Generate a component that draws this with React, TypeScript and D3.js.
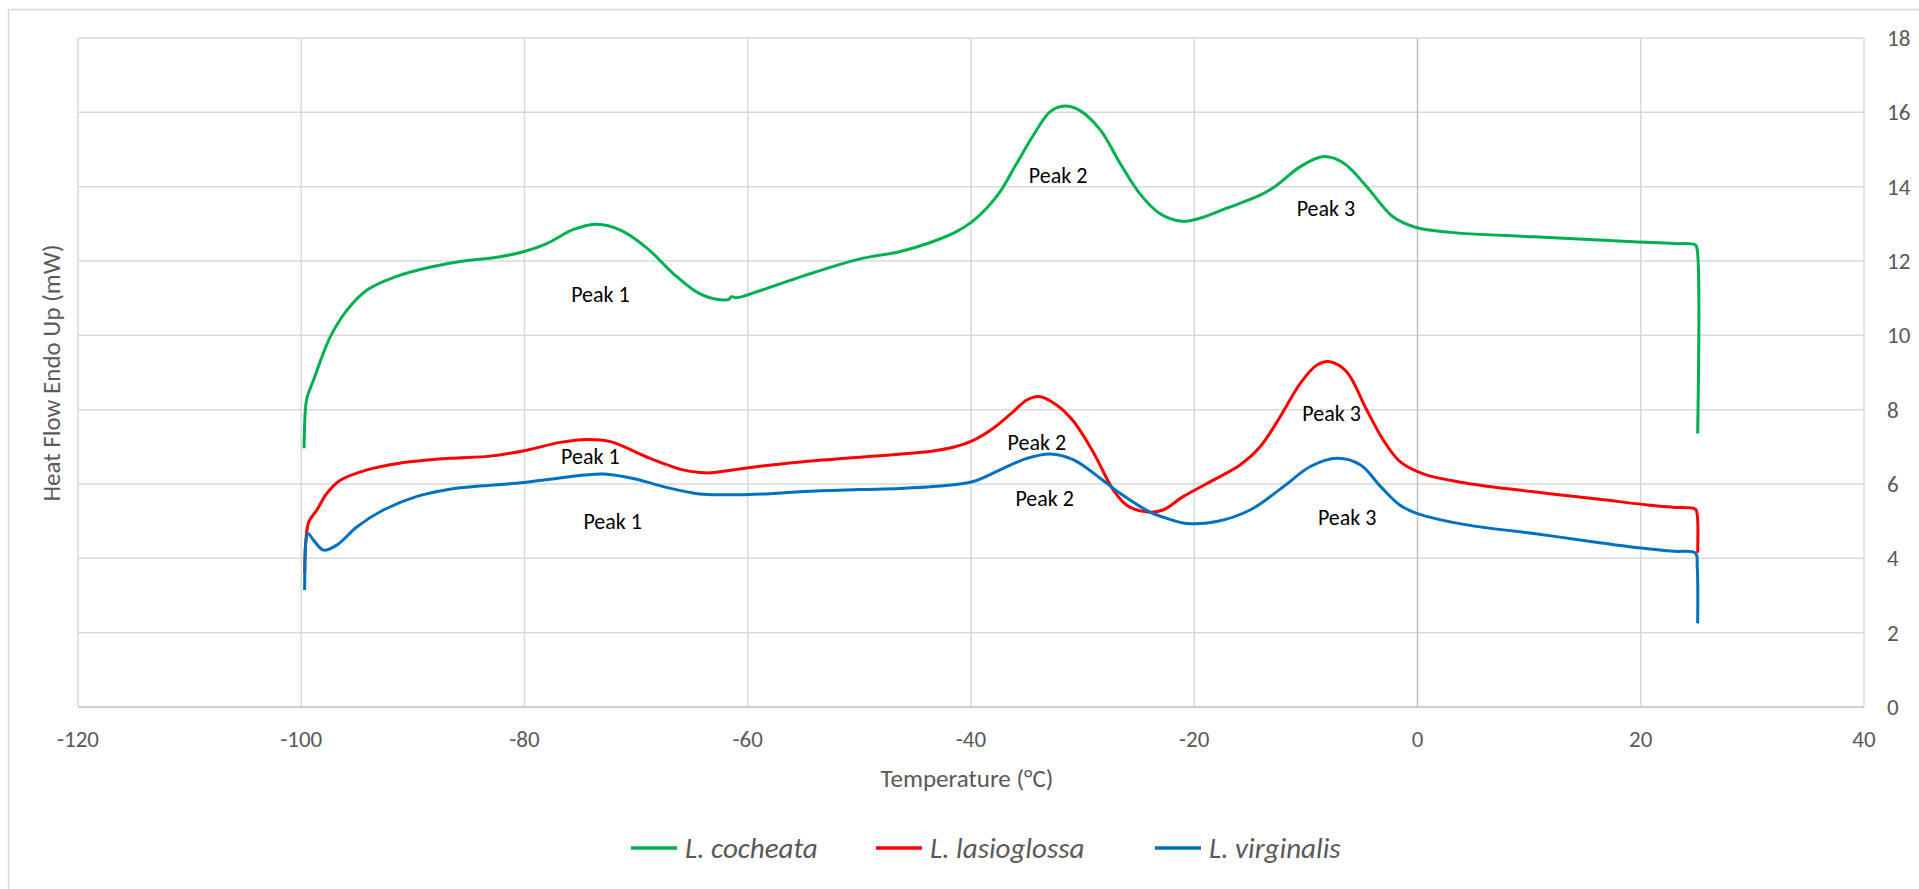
import React from "react";
import * as d3 from "d3";

// ---- Data ----
const xTicks = [-120, -100, -80, -60, -40, -20, 0, 20, 40];
const yTicks = [0, 2, 4, 6, 8, 10, 12, 14, 16, 18];

const seriesNames = ["L. cocheata", "L. lasioglossa", "L. virginalis"];
const seriesColors = ["#00b050", "#ff0000", "#0070c0"];

const cocheataT = [
  -99.75, -99.65, -99.5, -98.9, -97.4, -95.9, -94.1, -91.5, -88.5, -85.5, -82.5, -80.1, -78, -75.6, -73.5,
  -71.4, -69, -66.7, -64.6, -62.8, -61.7, -61.45, -61, -58.9, -55, -50, -46.4, -43.7, -41.3, -39.9, -38.6,
  -37.4, -35.9, -34.4, -32.9, -31.6, -30.2, -28.4, -26.65, -24.9, -23.1, -21.1, -19.5, -17.1, -14.1, -12.6,
  -10.5, -8.4, -6.6, -4.55, -2.2, -0.1, 2.9, 10.4, 19.35, 23.0, 24.9, 25.06, 25.1,
];
const cocheataHF = [
  6.96, 7.9, 8.3, 8.8, 9.96, 10.68, 11.22, 11.58, 11.83, 12.0, 12.1, 12.25, 12.47, 12.85, 12.99,
  12.83, 12.34, 11.67, 11.17, 10.97, 10.97, 11.04, 11.01, 11.2, 11.6, 12.05, 12.25, 12.49, 12.79, 13.06, 13.42,
  13.86, 14.63, 15.39, 16.02, 16.17, 16.04, 15.52, 14.63, 13.82, 13.28, 13.07, 13.15, 13.42, 13.77, 14.04,
  14.54, 14.81, 14.63, 14.0, 13.19, 12.9, 12.77, 12.65, 12.52, 12.47, 12.43, 12.3, 7.36,
];

const lasioglossaT = [
  -99.7, -99.55, -99.3, -98.6, -97.7, -96.5, -94.1, -91.2, -86.7, -83.1, -79.8, -76.8, -74.4, -72.3, -68.75,
  -65.8, -64.3, -63.4, -58.9, -55, -50, -46.4, -43.4, -41.6, -39.9, -38.0, -36.2, -35.0, -33.8, -32.3, -30.8,
  -29.0, -27.25, -26.05, -24.3, -22.8, -21.0, -18.0, -15.9, -14.1, -12.3, -10.5, -9.0, -7.85, -6.35, -4.55,
  -3.06, -1.56, 0.52, 4.4, 10.4, 16.3, 20.8, 23.0, 24.9, 25.06, 25.1,
];
const lasioglossaHF = [
  3.6, 4.6, 5.0, 5.3, 5.75, 6.1, 6.38, 6.56, 6.69, 6.75, 6.91, 7.12, 7.2, 7.14, 6.69,
  6.38, 6.31, 6.3, 6.48, 6.6, 6.72, 6.8, 6.89, 6.99, 7.16, 7.5, 7.95, 8.26, 8.35, 8.12, 7.68,
  6.83, 5.84, 5.43, 5.25, 5.3, 5.66, 6.15, 6.51, 7.0, 7.81, 8.71, 9.2, 9.29, 9.02, 7.99,
  7.18, 6.6, 6.27, 6.02, 5.79, 5.59, 5.43, 5.37, 5.32, 5.17, 4.15,
];

const virginalisT = [
  -99.7, -99.68, -99.6, -99.4, -98.9, -98.0, -96.8, -95.0, -92.65, -89.7, -86.7, -83.7, -80.7, -77.7, -74.7,
  -72.9, -70.25, -67.3, -64.3, -62, -58, -55, -50, -46.4, -43.4, -39.9, -37.4, -35.0, -32.9, -30.8, -28.4,
  -26.65, -24.0, -22.5, -20.7, -18.0, -15.0, -12.0, -9.6, -7.2, -5.1, -3.3, -1.56, -0.07, 4.4, 10.4, 16.3,
  20.8, 23.0, 24.9, 25.06, 25.1,
];
const virginalisHF = [
  3.15, 3.6, 4.4, 4.67, 4.49, 4.22, 4.36, 4.85, 5.3, 5.66, 5.86, 5.95, 6.02, 6.13, 6.24,
  6.27, 6.15, 5.91, 5.73, 5.71, 5.74, 5.8, 5.85, 5.88, 5.93, 6.06, 6.38, 6.69, 6.81, 6.65, 6.15,
  5.75, 5.25, 5.08, 4.94, 4.99, 5.3, 5.93, 6.47, 6.69, 6.51, 5.93, 5.43, 5.21, 4.9, 4.67, 4.42,
  4.25, 4.19, 4.14, 3.78, 2.25,
];

// Peak annotations
const peakLabels = ["Peak 1", "Peak 2", "Peak 3", "Peak 1", "Peak 2", "Peak 3", "Peak 1", "Peak 2", "Peak 3"];
const peakT = [-73.2, -32.2, -8.2, -74.1, -34.1, -7.7, -72.1, -33.4, -6.3];
const peakHF = [11.1, 14.3, 13.4, 6.75, 7.13, 7.9, 5.0, 5.6, 5.1];

const W = 1919;
const H = 889;

export default function App() {
  const x = d3.scaleLinear().domain([-120, 40]).range([78, 1864]);
  const y = d3.scaleLinear().domain([0, 18]).range([707, 38]);

  const line = d3
    .line<[number, number]>()
    .x((d) => x(d[0]))
    .y((d) => y(d[1]))
    .curve(d3.curveCatmullRom.alpha(0.5));

  const series: [number, number][][] = [
    cocheataT.map((t, i) => [t, cocheataHF[i]]),
    lasioglossaT.map((t, i) => [t, lasioglossaHF[i]]),
    virginalisT.map((t, i) => [t, virginalisHF[i]]),
  ];

  const font = "Carlito, Calibri, 'Open Sans', sans-serif";
  const gray = "#595959";
  const grid = "#d9d9d9";
  const axis = "#bfbfbf";

  const legendLineX = [631, 876, 1155];

  return (
    <div style={{ position: "absolute", left: 0, top: 0 }}>
      <svg width={W} height={H} style={{ display: "block", background: "#fff" }} fontFamily={font}>
        <rect x={8.5} y={9.5} width={W + 20} height={H + 20} fill="#fff" stroke={grid} strokeWidth={1.5} />
        {yTicks.filter((t) => t !== 0).map((t) => (
          <line key={"gy" + t} x1={x(-120)} x2={x(40)} y1={y(t)} y2={y(t)} stroke={grid} strokeWidth={1.5} />
        ))}
        {xTicks.filter((t) => t !== 0).map((t) => (
          <line key={"gx" + t} x1={x(t)} x2={x(t)} y1={y(0)} y2={y(18)} stroke={grid} strokeWidth={1.5} />
        ))}
        <line x1={x(-120)} x2={x(40)} y1={y(0)} y2={y(0)} stroke={axis} strokeWidth={1.5} />
        <line x1={x(0)} x2={x(0)} y1={y(0)} y2={y(18)} stroke={axis} strokeWidth={1.5} />
        {xTicks.map((t) => (
          <text key={"tx" + t} x={x(t)} y={y(0) + 32} textAnchor="middle" dominantBaseline="central" fontSize={23} fill={gray}>
            {t}
          </text>
        ))}
        {yTicks.map((t) => (
          <text key={"ty" + t} x={1887} y={y(t)} textAnchor="start" dominantBaseline="central" fontSize={23} fill={gray}>
            {t}
          </text>
        ))}
        <text x={967} y={778} textAnchor="middle" dominantBaseline="central" fontSize={25} fill={gray}>
          Temperature (°C)
        </text>
        <text transform={`translate(51,373) rotate(-90)`} textAnchor="middle" dominantBaseline="central" fontSize={25} fill={gray}>
          Heat Flow Endo Up (mW)
        </text>
        {series.map((s, i) => (
          <path key={"s" + i} d={line(s) || ""} fill="none" stroke={seriesColors[i]} strokeWidth={3} strokeLinejoin="round" />
        ))}
        {peakLabels.map((lab, i) => (
          <text key={"p" + i} x={x(peakT[i])} y={y(peakHF[i])} textAnchor="middle" dominantBaseline="central" fontSize={22} fill="#000">
            {lab}
          </text>
        ))}
        {seriesNames.map((n, i) => (
          <g key={"l" + i}>
            <line x1={legendLineX[i]} x2={legendLineX[i] + 46} y1={848} y2={848} stroke={seriesColors[i]} strokeWidth={3.5} />
            <text x={legendLineX[i] + 54} y={848} dominantBaseline="central" fontSize={29} fontStyle="italic" fill={gray}>
              {n}
            </text>
          </g>
        ))}
      </svg>
    </div>
  );
}
